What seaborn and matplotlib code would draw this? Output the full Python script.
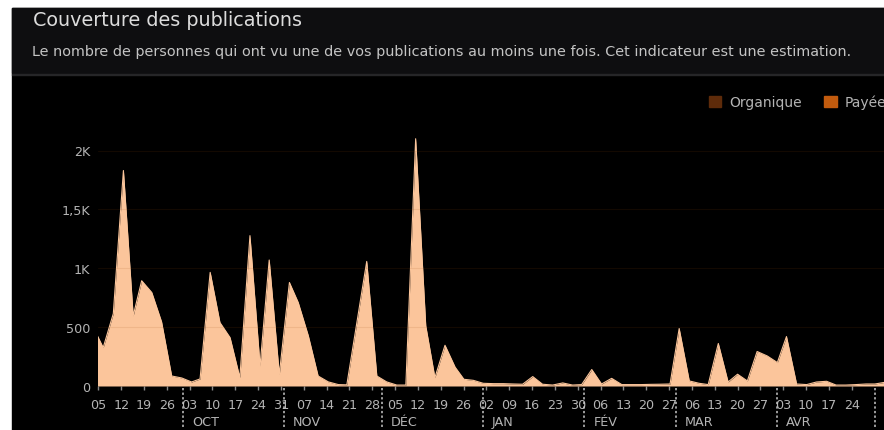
import pandas as pd
import matplotlib
matplotlib.use('Agg')
import matplotlib.pyplot as plt
import seaborn as sns
from matplotlib.patches import Rectangle, Patch

# values (days after 2022-09-05, reach)
START = '2022-09-05'
DAY_OFFSETS = [
    -1.5, 1.5, 4.6, 7.7, 10.7, 13.3, 16.4, 19.4, 22.5, 25.6,
    28.6, 31.2, 34.3, 37.3, 40.4, 43.4, 46.5, 49.6, 52.4, 55.5,
    58.6, 61.3, 64.4, 67.4, 70.5, 73.6, 76.2, 82.3, 85.4, 88.4,
    91.5, 94.3, 97.3, 100.4, 103.2, 106.3, 109.4, 112.1, 115.0, 118.0,
    121.1, 124.2, 127.2, 130.1, 133.2, 136.2, 139.3, 142.4, 145.4, 148.2,
    151.3, 154.3, 157.4, 160.5, 163.3, 166.4, 169.4, 172.2, 175.3, 178.1,
    181.2, 184.2, 187.0, 190.1, 193.1, 196.0, 199.0, 202.0, 205.1, 208.2,
    211.0, 214.1, 217.2, 220.2, 223.3, 226.2, 229.2, 232.3, 235.4, 238.1,
    240.9, 243.9,
]
REACH = [
    496, 326, 615, 1830, 596, 894, 794, 545, 85, 68,
    34, 60, 965, 539, 411, 71, 1277, 170, 1070, 99,
    879, 709, 426, 85, 35, 12, 10, 1058, 85, 35,
    8, 8, 2100, 511, 71, 346, 160, 57, 48, 23,
    20, 20, 17, 15, 80, 15, 8, 26, 8, 12,
    140, 17, 65, 12, 12, 12, 14, 15, 17, 488,
    43, 23, 12, 361, 34, 100, 43, 293, 255, 199,
    420, 17, 12, 34, 40, 8, 8, 12, 17, 17,
    30, 45,
]
Y_TICKS = [0, 500, 1000, 1500, 2000]
Y_LABELS = ['0', '500', '1K', '1,5K', '2K']
MONTH_LABELS = ['OCT', 'NOV', 'DÉC', 'JAN', 'FÉV', 'MAR', 'AVR', 'MAI']
LEGEND_LABELS = ['Organique', 'Payée']

TITLE = 'Couverture des publications'
SUBTITLE = ('Le nombre de personnes qui ont vu une de vos publications au moins une fois. '
            'Cet indicateur est une estimation.')

FILL = '#fbc59b'
LEGEND_COLORS = ['#5e2b0a', '#c25b0e']
TEXT = '#b4b4b4'

sns.set_theme(style='dark')
plt.rcParams['font.family'] = ['DejaVu Sans']

start = pd.Timestamp(START)
df = pd.DataFrame({
    'date': start + pd.to_timedelta(DAY_OFFSETS, unit='D'),
    'reach': REACH,
})

W, H = 884, 431
fig = plt.figure(figsize=(W / 100, H / 100), dpi=100, facecolor='white')

# page panels (white margin top/left, dark header, black chart body)
fig.patches.append(Rectangle((12 / W, 0), 1, (H - 9) / H, transform=fig.transFigure,
                             color='#000000', zorder=-3))
fig.patches.append(Rectangle((12 / W, (H - 74) / H), 1, 65 / H, transform=fig.transFigure,
                             color='#0e0e10', zorder=-2))
fig.patches.append(Rectangle((12 / W, (H - 76) / H), 1, 1.5 / H, transform=fig.transFigure,
                             color='#262628', zorder=-2))

fig.text(33 / W, 1 - 21 / H, TITLE, color='#dcdcdc', fontsize=13.8, va='center', ha='left')
fig.text(32 / W, 1 - 52 / H, SUBTITLE, color='#c4c4c4', fontsize=10.4, va='center', ha='left')

# axes: y=0 at pixel row 387, 1000 units = 117.75 px
y0_px, top_px = 387, 116
ymax = (y0_px - top_px) / 117.75 * 1000
ax = fig.add_axes([98.3 / W, (H - y0_px) / H, 1 - 98.3 / W, (y0_px - top_px) / H])
ax.set_facecolor('black')

sns.lineplot(data=df, x='date', y='reach', color=FILL, linewidth=0.8, ax=ax)
ax.fill_between(df['date'], 0, df['reach'], color=FILL, linewidth=0, zorder=2)

# grid only shows faintly over the filled area
for yv in Y_TICKS[1:]:
    ax.axhline(yv, color='#a05010', alpha=0.12, linewidth=0.8, zorder=3)

ax.set_xlim(start, start + pd.Timedelta(days=240.9))
ax.set_ylim(0, ymax)
ax.grid(False)
for s in ax.spines.values():
    s.set_visible(False)

ax.set_yticks(Y_TICKS)
ax.set_yticklabels(Y_LABELS)
ax.tick_params(axis='y', length=0, pad=6, colors=TEXT, labelsize=9.2)

weeks = pd.date_range(START, '2023-04-24', freq='7D')
ax.set_xticks(weeks)
ax.set_xticklabels([d.strftime('%d') for d in weeks])
ax.tick_params(axis='x', length=3, width=1, pad=6, colors=TEXT, labelsize=9.2,
               direction='out', bottom=True)
ax.tick_params(axis='x', color='#8a8a8a')
ax.set_xlabel('')
ax.set_ylabel('')

ax_h = y0_px - top_px
months = pd.date_range('2022-10-01', '2023-05-01', freq='MS')
for m, lab in zip(months, MONTH_LABELS):
    ax.plot([m, m], [-2 / ax_h, -43 / ax_h], transform=ax.get_xaxis_transform(),
            color='#c8c8c8', linestyle=(0, (1.5, 1.5)), linewidth=1.1, clip_on=False)
    ax.annotate(lab, xy=(m, -36 / ax_h), xycoords=('data', 'axes fraction'),
                xytext=(9, 0), textcoords='offset pixels', ha='left', va='center',
                color=TEXT, fontsize=9.2, annotation_clip=False)

handles = [Patch(facecolor=c, edgecolor=c, label=l) for c, l in zip(LEGEND_COLORS, LEGEND_LABELS)]
fig.legend(handles=handles, loc='center left', bbox_to_anchor=(696 / W, 1 - 103 / H),
           ncol=2, frameon=False, fontsize=10, labelcolor=TEXT, handlelength=0.9,
           handleheight=0.9, handletextpad=0.6, columnspacing=1.6)

fig.savefig('out.png', dpi=100, facecolor=fig.get_facecolor())
